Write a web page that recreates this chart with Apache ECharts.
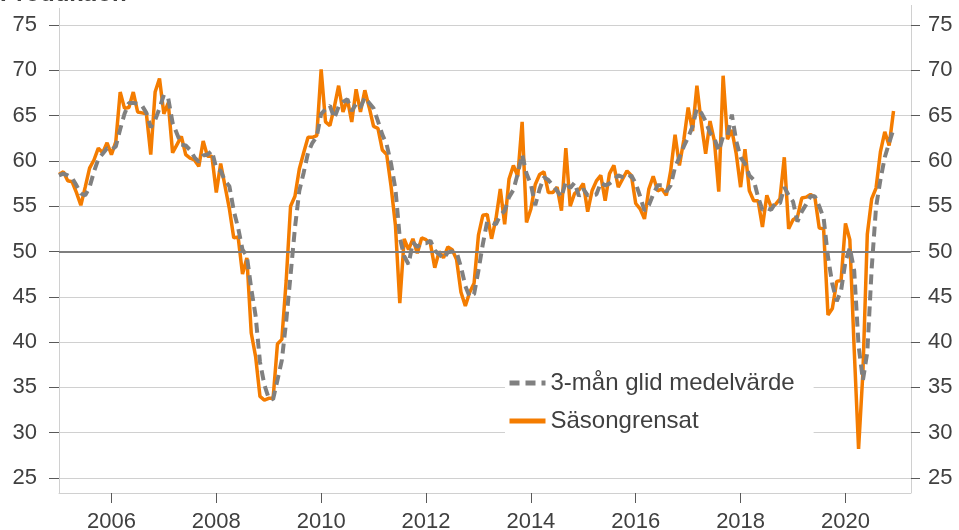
<!DOCTYPE html>
<html><head><meta charset="utf-8">
<script src="https://cdn.jsdelivr.net/npm/echarts@6/dist/echarts.min.js"></script>
<style>html,body{margin:0;padding:0;background:#fff}#c{width:959px;height:530px}</style>
</head><body><div id="c"></div>
<script>
// Month categories Jan 2005 .. Apr 2021 (data ends Dec 2020)
const categories = [];
for (let y = 2005; y <= 2021; y++) {
  for (let m = 1; m <= 12; m++) {
    if (y === 2021 && m > 4) break;
    categories.push(y + '-' + String(m).padStart(2, '0'));
  }
}
const yMin = 25, yMax = 75, yStep = 5;
const refLevel = 50;
const seriesNameSA = 'Säsongrensat';
const seriesNameMA = '3-mån glid medelvärde';
const titleText = 'Produktion';

const seasonal = [
58.5,58.8,57.8,57.7,56.5,55.1,57.1,59.2,60.1,61.4,60.9,62.0,
60.7,62.1,67.6,65.8,65.9,67.6,65.4,65.3,65.2,60.7,67.6,69.1,
65.2,66.4,60.9,61.8,62.7,60.7,60.3,60.1,59.4,62.2,60.5,60.5,
56.5,59.7,57.2,54.7,51.5,51.6,47.5,49.3,41.0,38.4,34.0,33.6,
33.8,33.8,39.8,40.3,46.8,55.0,56.1,59.1,60.9,62.6,62.6,62.8,
70.1,64.3,63.9,65.9,68.3,65.4,66.8,64.3,67.9,65.4,67.8,65.9,
63.8,63.6,61.2,60.7,57.2,52.9,44.3,51.4,50.2,51.4,49.8,51.5,
51.3,50.9,48.2,50.0,49.3,50.5,50.2,49.1,45.5,44.0,45.5,46.5,
51.8,54.0,54.1,51.4,53.6,56.9,53.0,58.0,59.5,58.3,64.3,53.2,
54.7,57.4,58.5,58.8,56.5,56.5,57.1,54.5,61.4,55.0,56.4,56.8,
57.5,54.4,56.7,57.8,58.4,55.6,58.6,59.5,57.1,58.0,58.9,58.4,
55.3,54.7,53.6,56.9,58.3,56.7,56.9,56.2,58.9,62.9,59.5,62.3,
65.9,63.3,68.3,64.2,60.8,64.4,62.2,56.6,69.4,62.4,63.4,60.8,
57.1,61.3,56.7,55.6,55.6,52.7,56.2,54.9,55.2,55.8,60.4,52.5,
53.5,53.8,55.9,56.0,56.3,56.0,52.6,52.5,43.0,43.7,46.7,46.8,
53.1,51.3,39.2,28.2,36.7,51.9,55.8,57.0,61.0,63.2,61.7,65.5
];

const movingAvg = [
58.4,58.6,58.4,58.1,57.3,56.4,56.2,57.1,58.8,60.2,60.8,61.4,
61.2,61.6,63.5,65.2,66.4,66.4,66.3,66.1,65.3,63.7,64.5,65.8,
67.3,66.9,64.2,63.0,61.8,61.7,61.2,60.4,59.9,60.6,60.7,61.1,
59.2,58.9,57.8,57.2,54.5,52.6,50.2,49.5,45.9,42.9,37.8,35.3,
33.8,33.7,35.8,38.0,42.3,47.4,52.6,56.7,58.7,60.9,62.0,62.7,
65.2,65.7,66.1,64.7,66.0,66.5,66.8,65.5,66.3,65.9,67.0,66.4,
65.8,64.4,62.9,61.8,59.7,56.9,51.5,49.5,48.6,51.0,50.5,50.9,
50.9,51.2,50.1,49.7,49.2,49.9,50.0,49.9,48.3,46.2,45.0,45.3,
47.9,50.8,53.3,53.2,53.0,54.0,54.5,56.0,56.8,58.6,60.7,58.6,
57.4,55.1,56.9,58.2,57.9,57.3,56.7,56.0,57.7,57.0,57.6,56.1,
56.9,56.2,56.2,56.3,57.6,57.3,57.5,57.9,58.4,58.2,58.0,58.4,
57.5,56.1,54.5,55.1,56.3,57.3,57.3,56.6,57.3,59.3,60.4,61.6,
62.6,63.8,65.8,65.3,64.4,63.1,62.5,61.1,62.7,62.8,65.1,62.2,
60.4,59.7,58.4,57.9,56.0,54.6,54.8,54.6,55.4,55.3,57.1,56.2,
55.5,53.3,54.4,55.2,56.1,56.1,55.0,53.7,49.4,46.4,44.5,45.7,
48.9,50.4,47.9,39.6,35.8,38.9,48.1,54.9,57.9,60.4,62.0,63.5
];

const FONT = '"Liberation Sans", Arial, sans-serif';
const TXT = '#404040';
const GRID = '#d0d0d0';
const isYearTick = (i, v) => v.endsWith('-01') && (+v.slice(0, 4)) % 2 === 0;

const chart = echarts.init(document.getElementById('c'), null, {renderer: 'canvas'});
chart.setOption({
  animation: false,
  backgroundColor: '#fff',
  textStyle: {fontFamily: FONT},
  title: {text: titleText, left: 0, top: -18, padding: 0,
    textStyle: {fontSize: 24, fontWeight: 'bold', color: TXT, fontFamily: FONT}},
  grid: {left: 59, right: 48, top: 25, bottom: 52, containLabel: false, outerBoundsMode: 'none'},
  legend: {
    orient: 'vertical', left: 505, top: 362,
    backgroundColor: '#fff', padding: [7, 19, 7, 2],
    itemGap: 10, itemWidth: 36, itemHeight: 14,
    lineStyle: {width: 5},
    itemStyle: {opacity: 0},
    textStyle: {fontSize: 24, color: TXT, fontFamily: FONT, lineHeight: 28},
    data: [seriesNameMA, seriesNameSA]
  },
  xAxis: {
    type: 'category', data: categories, boundaryGap: false, offset: 15,
    axisLine: {lineStyle: {color: GRID, width: 1}},
    axisTick: {interval: isYearTick, length: 10, lineStyle: {color: '#595959'}},
    axisLabel: {interval: isYearTick, formatter: v => v.slice(0, 4),
      fontSize: 22, color: TXT, margin: 18, fontFamily: FONT},
    splitLine: {show: false}
  },
  yAxis: [
    {type: 'value', min: yMin, max: yMax, interval: yStep, position: 'left',
      axisLine: {show: false},
      axisTick: {show: true, length: 10, lineStyle: {color: '#595959'}},
      axisLabel: {fontSize: 22, color: TXT, margin: 22, fontFamily: FONT},
      splitLine: {lineStyle: {color: GRID, width: 1}}},
    {type: 'value', min: yMin, max: yMax, interval: yStep, position: 'right',
      axisLine: {show: false},
      axisTick: {show: true, length: 9, lineStyle: {color: '#595959'}},
      axisLabel: {fontSize: 22, color: TXT, margin: 17, fontFamily: FONT},
      splitLine: {show: false}}
  ],
  graphic: [
    {type: 'line', silent: true, z: 0, shape: {x1: 59.5, y1: 8, x2: 59.5, y2: 493},
      style: {stroke: GRID, lineWidth: 1}},
    {type: 'line', silent: true, z: 0, shape: {x1: 911.5, y1: 5, x2: 911.5, y2: 493},
      style: {stroke: GRID, lineWidth: 1}}
  ],
  series: [
    {name: seriesNameSA, type: 'line', data: seasonal, symbol: 'none', z: 2,
      lineStyle: {color: '#F47C00', width: 3.5}, itemStyle: {color: '#F47C00'},
      markLine: {silent: true, symbol: 'none', label: {show: false},
        lineStyle: {color: '#7f7f7f', width: 2, type: 'solid'},
        emphasis: {disabled: true},
        data: [{yAxis: refLevel}]}},
    {name: seriesNameMA, type: 'line', data: movingAvg, symbol: 'none', z: 3,
      lineStyle: {color: '#808080', width: 4, type: [10, 6]}, itemStyle: {color: '#808080'}}
  ]
});
</script></body></html>
